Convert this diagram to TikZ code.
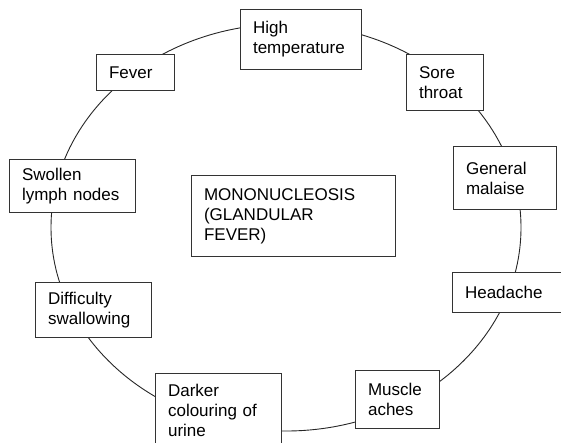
\documentclass[tikz,border=0pt]{standalone}
\usepackage{fontspec}
\setmainfont{Liberation Sans}

\tikzset{
	sym/.style={draw=black!80, line width=1.1pt, fill=white, anchor=north west,
		align=left, inner xsep=12.5pt, inner ysep=0pt,
		font=\fontsize{17}{20}\selectfont},
}

\begin{document}
\begin{tikzpicture}[x=1pt, y=-1pt]

	\clip (0,0) rectangle (561,442);

	% Cercle
	\draw[black!85, line width=0.9pt] (286,227.5) ellipse [x radius=235pt, y radius=203.5pt];

	% Centre
	\node[sym, text width=179pt, minimum height=81pt] (mono) at (191,175) {MONONUCLEOSIS\\(GLANDULAR\\FEVER)};

	% Simptomes
	\node[sym, text width=96pt, minimum height=60pt] (high) at (240,9) {High\\temperature};
	\node[sym, text width=52pt, minimum height=56pt] (sore) at (406,54) {Sore\\throat};
	\node[sym, text width=78pt, minimum height=63pt] (malaise) at (453,146) {General\\malaise};
	\node[sym, text width=105pt, minimum height=40pt] (headache) at (452,272) {Headache};
	\node[sym, text width=59pt, minimum height=58pt] (muscle) at (355,370) {Muscle\\aches};
	\node[sym, text width=101pt, minimum height=73pt] (urine) at (155,373) {Darker\\colouring of\\urine};
	\node[sym, text width=91pt, minimum height=55pt] (swallow) at (35,282) {Difficulty\\swallowing};
	\node[sym, text width=101pt, minimum height=53pt] (lymph) at (9,159) {Swollen\\lymph nodes};
	\node[sym, text width=53pt, minimum height=36pt] (fever) at (96,54) {Fever};

\end{tikzpicture}
\end{document}
